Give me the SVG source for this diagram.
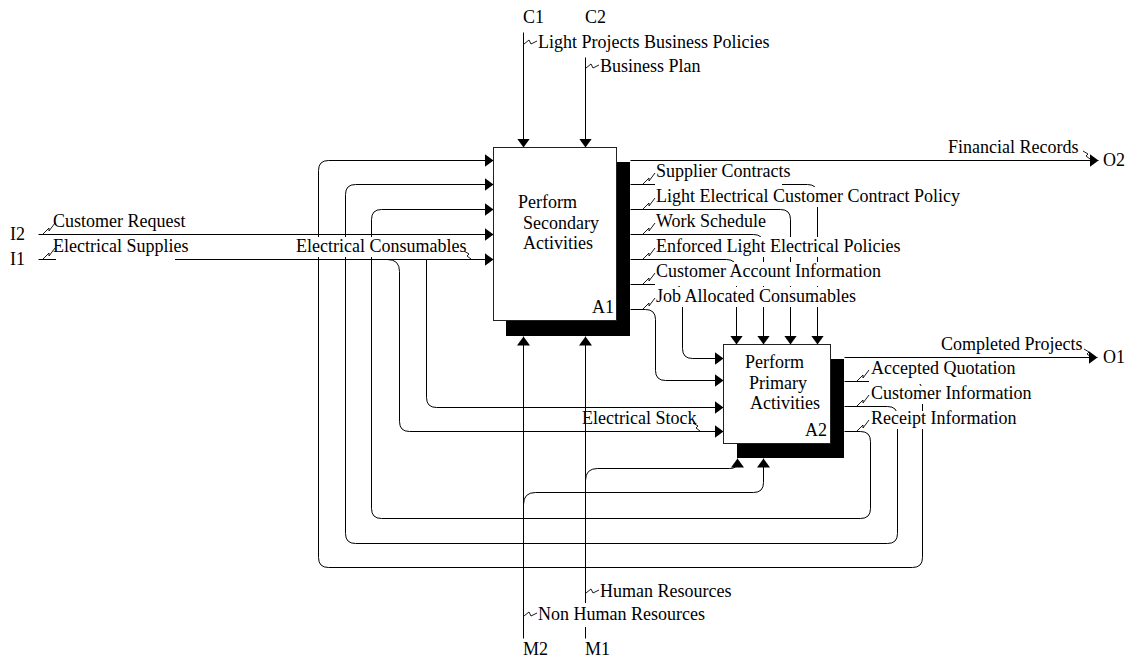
<svg xmlns="http://www.w3.org/2000/svg" xmlns:xlink="http://www.w3.org/1999/xlink" width="1128" height="658" viewBox="0 0 1128 658">
  <style>
    .ln { fill: none; stroke: #000; stroke-width: 1; }
    .t { font-family: "Liberation Serif", "Times New Roman", serif; font-size: 18px; fill: #000; }
    .bg { fill: #fff; stroke: none; }
    .sq { fill: none; stroke: #000; stroke-width: 0.9; }
    .box { fill: #fff; stroke: #222; stroke-width: 1; }
    .shadow { fill: #000; }
  </style>
  <defs>
    <marker id="ah" markerUnits="userSpaceOnUse" markerWidth="9" markerHeight="13" viewBox="0 0 9 13" refX="9" refY="6.5" orient="auto">
      <path d="M0,0 L9,6.5 L0,13 Z" fill="#000"/>
    </marker>
    <!-- squiggle: from a horizontal arrow up to a label above it -->
    <path id="sqUp" d="M0,0 L6,-6 L6,-3 L12,-11"/>
    <!-- squiggle: from a vertical arrow across to a label on its right -->
    <path id="sqSide" d="M0,1 L5,-3 L7,1 L13,-2"/>
    <!-- squiggle: from the end of a label down to the arrow below -->
    <path id="sqDown" d="M0,0 L5,3 L3,5 L7,8"/>
  </defs>

  <!-- connectors -->
  <g id="connectors" transform="translate(0.5,0.5)">
    <!-- controls -->
    <path class="ln" d="M523,32 L523,147" marker-end="url(#ah)"/>
    <path class="ln" d="M585,57 L585,147" marker-end="url(#ah)"/>
    <!-- mechanisms -->
    <path class="ln" d="M523,638 L523,336" marker-end="url(#ah)"/>
    <path class="ln" d="M585,638 L585,336" marker-end="url(#ah)"/>
    <path class="ln" d="M585,480 Q585,468 597,468 L729,468 Q737,468 737,462 L737,458" marker-end="url(#ah)"/>
    <path class="ln" d="M523,504 Q523,492 535,492 L753,492 Q763,492 763,482 L763,458" marker-end="url(#ah)"/>
    <!-- inputs -->
    <path class="ln" d="M38,234 L493,234" marker-end="url(#ah)"/>
    <path class="ln" d="M38,259 L493,259" marker-end="url(#ah)"/>
    <path class="ln" d="M387,259 Q399,259 399,271 L399,421 Q399,431 409,431 L723,431" marker-end="url(#ah)"/>
    <path class="ln" d="M426,259 L426,397 Q426,407 436,407 L723,407" marker-end="url(#ah)"/>
    <!-- A1 outputs -->
    <path class="ln" d="M630,160 L1098,160" marker-end="url(#ah)"/>
    <path class="ln" d="M630,184 L807,184 Q817,184 817,194 L817,344" marker-end="url(#ah)"/>
    <path class="ln" d="M630,209 L780,209 Q790,209 790,219 L790,344" marker-end="url(#ah)"/>
    <path class="ln" d="M630,234 L753,234 Q763,234 763,244 L763,344" marker-end="url(#ah)"/>
    <path class="ln" d="M630,259 L726,259 Q736,259 736,269 L736,344" marker-end="url(#ah)"/>
    <path class="ln" d="M630,284 L672,284 Q682,284 682,294 L682,348 Q682,358 692,358 L723,358" marker-end="url(#ah)"/>
    <path class="ln" d="M630,309 L645,309 Q655,309 655,319 L655,370 Q655,380 665,380 L723,380" marker-end="url(#ah)"/>
    <!-- A2 outputs and feedback loops -->
    <path class="ln" d="M844,357 L1097,357" marker-end="url(#ah)"/>
    <path class="ln" d="M844,381 L912,381 Q922,381 922,391 L922,557 Q922,567 912,567 L328,567 Q318,567 318,557 L318,170 Q318,160 328,160 L493,160" marker-end="url(#ah)"/>
    <path class="ln" d="M844,406 L887,406 Q897,406 897,416 L897,533 Q897,543 887,543 L355,543 Q345,543 345,533 L345,194 Q345,184 355,184 L493,184" marker-end="url(#ah)"/>
    <path class="ln" d="M844,431 L860,431 Q870,431 870,441 L870,508 Q870,518 860,518 L381,518 Q371,518 371,508 L371,219 Q371,209 381,209 L493,209" marker-end="url(#ah)"/>
  </g>

  <!-- arrow labels -->
  <g id="labels">
    <text class="t" x="523" y="23">C1</text>
    <text class="t" x="585" y="23">C2</text>
    <use class="sq" xlink:href="#sqSide" x="524" y="43"/>
    <text class="t" x="538" y="48">Light Projects Business Policies</text>
    <use class="sq" xlink:href="#sqSide" x="586" y="67"/>
    <text class="t" x="600" y="72">Business Plan</text>

    <text class="t" x="10" y="240">I2</text>
    <text class="t" x="10" y="265">I1</text>
    <use class="sq" xlink:href="#sqUp" x="43" y="234"/>
    <text class="t" x="53" y="227">Customer Request</text>
    <rect class="bg" x="56" y="237" width="119" height="24"/>
    <use class="sq" xlink:href="#sqUp" x="43" y="259"/>
    <text class="t" x="53" y="252">Electrical Supplies</text>

    <rect class="bg" x="296" y="237" width="171" height="20"/>
    <text class="t" x="296" y="252">Electrical Consumables</text>
    <use class="sq" xlink:href="#sqDown" x="464" y="251"/>

    <text class="t" x="582" y="424">Electrical Stock</text>
    <use class="sq" xlink:href="#sqDown" x="693" y="423"/>

    <!-- A1 output labels -->
    <rect class="bg" x="655" y="163" width="127" height="23"/>
    <use class="sq" xlink:href="#sqUp" x="643" y="184"/>
    <text class="t" x="656" y="177">Supplier Contracts</text>
    <rect class="bg" x="655" y="187" width="307" height="20"/>
    <use class="sq" xlink:href="#sqUp" x="643" y="209"/>
    <text class="t" x="656" y="202">Light Electrical Customer Contract Policy</text>
    <rect class="bg" x="655" y="212" width="112" height="20"/>
    <use class="sq" xlink:href="#sqUp" x="643" y="234"/>
    <text class="t" x="656" y="227">Work Schedule</text>
    <rect class="bg" x="655" y="237" width="245" height="20"/>
    <use class="sq" xlink:href="#sqUp" x="643" y="259"/>
    <text class="t" x="656" y="252">Enforced Light Electrical Policies</text>
    <rect class="bg" x="655" y="262" width="227" height="24"/>
    <use class="sq" xlink:href="#sqUp" x="643" y="284"/>
    <text class="t" x="656" y="277">Customer Account Information</text>
    <rect class="bg" x="655" y="287" width="207" height="20"/>
    <use class="sq" xlink:href="#sqUp" x="643" y="309"/>
    <text class="t" x="656" y="302">Job Allocated Consumables</text>

    <text class="t" x="948" y="153">Financial Records</text>
    <use class="sq" xlink:href="#sqDown" x="1083" y="151"/>
    <text class="t" x="1103" y="166">O2</text>

    <!-- A2 output labels -->
    <text class="t" x="941" y="350">Completed Projects</text>
    <use class="sq" xlink:href="#sqDown" x="1084" y="349"/>
    <text class="t" x="1103" y="363">O1</text>
    <rect class="bg" x="869" y="361" width="147" height="23"/>
    <use class="sq" xlink:href="#sqUp" x="857" y="381"/>
    <text class="t" x="871" y="374">Accepted Quotation</text>
    <rect class="bg" x="869" y="386" width="163" height="18"/>
    <use class="sq" xlink:href="#sqUp" x="857" y="406"/>
    <text class="t" x="871" y="399">Customer Information</text>
    <rect class="bg" x="869" y="411" width="148" height="18"/>
    <use class="sq" xlink:href="#sqUp" x="857" y="431"/>
    <text class="t" x="871" y="424">Receipt Information</text>

    <!-- mechanism labels -->
    <use class="sq" xlink:href="#sqSide" x="586" y="592"/>
    <text class="t" x="600" y="597">Human Resources</text>
    <rect class="bg" x="537" y="603" width="173" height="24"/>
    <use class="sq" xlink:href="#sqSide" x="524" y="615"/>
    <text class="t" x="538" y="620">Non Human Resources</text>
    <text class="t" x="523" y="655">M2</text>
    <text class="t" x="585" y="655">M1</text>
  </g>

  <!-- activity boxes -->
  <g id="A1">
    <rect class="shadow" x="506" y="162" width="124" height="174"/>
    <rect class="box" x="493.5" y="147.5" width="123" height="173"/>
    <text class="t" x="518" y="208">Perform</text>
    <text class="t" x="523" y="228.5">Secondary</text>
    <text class="t" x="523" y="249">Activities</text>
    <text class="t" x="592" y="313">A1</text>
  </g>
  <g id="A2">
    <rect class="shadow" x="737" y="359" width="107" height="99"/>
    <rect class="box" x="723.5" y="344.5" width="107" height="99"/>
    <text class="t" x="745" y="368">Perform</text>
    <text class="t" x="749" y="388.5">Primary</text>
    <text class="t" x="750" y="409">Activities</text>
    <text class="t" x="805" y="436">A2</text>
  </g>
</svg>
